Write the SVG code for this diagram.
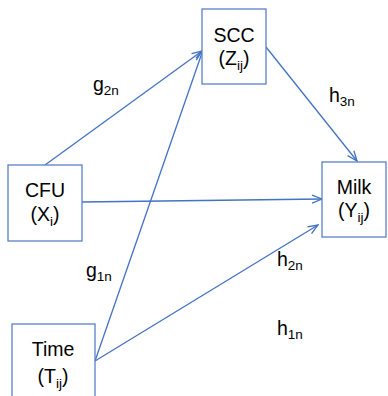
<svg xmlns="http://www.w3.org/2000/svg" width="388" height="396" viewBox="0 0 388 396">
  <defs>
    <marker id="arrow" viewBox="0 0 12 10" refX="11" refY="5" markerWidth="12" markerHeight="10" markerUnits="userSpaceOnUse" orient="auto">
      <path d="M1,1 L11,5 L1,9" fill="none" stroke="#4472c4" stroke-width="1.3"/>
    </marker>
    <style>
      .box { fill: #ffffff; stroke: #5a80c9; stroke-width: 1.3; }
      .edge { fill: none; stroke: #4472c4; stroke-width: 1.3; marker-end: url(#arrow); }
      .t { font-family: "Liberation Sans", Arial, sans-serif; font-size: 19.5px; fill: #000000; text-anchor: middle; }
      .lbl { font-family: "Liberation Sans", Arial, sans-serif; font-size: 19.5px; fill: #000000; }
      .sub { font-size: 13.5px; }
    </style>
  </defs>

  <rect width="388" height="396" fill="#ffffff"/>

  <!-- connectors -->
  <g id="connectors">
    <line class="edge" x1="45" y1="165" x2="202" y2="51"/>
    <line class="edge" x1="95" y1="361" x2="203" y2="50"/>
    <line class="edge" x1="95" y1="361" x2="318" y2="225"/>
    <line class="edge" x1="82" y1="202" x2="322" y2="199"/>
    <line class="edge" x1="266" y1="47" x2="357" y2="161"/>
  </g>

  <!-- path coefficient labels -->
  <g id="labels">
    <text class="lbl" x="93" y="91">g<tspan class="sub" dy="4">2n</tspan></text>
    <text class="lbl" x="329" y="102">h<tspan class="sub" dy="4">3n</tspan></text>
    <text class="lbl" x="86" y="277">g<tspan class="sub" dy="4">1n</tspan></text>
    <text class="lbl" x="277" y="266">h<tspan class="sub" dy="4">2n</tspan></text>
    <text class="lbl" x="277" y="335">h<tspan class="sub" dy="4">1n</tspan></text>
  </g>

  <g id="scc">
    <rect class="box" x="202" y="9" width="64" height="75"/>
    <text class="t" x="234" y="42">SCC</text>
    <text class="t" x="234" y="65">(Z<tspan class="sub" dy="5">ij</tspan><tspan dy="-5">)</tspan></text>
  </g>

  <g id="cfu">
    <rect class="box" x="8" y="165" width="74" height="76"/>
    <text class="t" x="45" y="197">CFU</text>
    <text class="t" x="45" y="221">(X<tspan class="sub" dy="5">i</tspan><tspan dy="-5">)</tspan></text>
  </g>

  <g id="milk">
    <rect class="box" x="322" y="162" width="64" height="75"/>
    <text class="t" x="354" y="194">Milk</text>
    <text class="t" x="354" y="217">(Y<tspan class="sub" dy="5">ij</tspan><tspan dy="-5">)</tspan></text>
  </g>

  <g id="time">
    <rect class="box" x="12" y="324" width="83" height="80"/>
    <text class="t" x="53" y="356">Time</text>
    <text class="t" x="53" y="383">(T<tspan class="sub" dy="5">ij</tspan><tspan dy="-5">)</tspan></text>
  </g>
</svg>
